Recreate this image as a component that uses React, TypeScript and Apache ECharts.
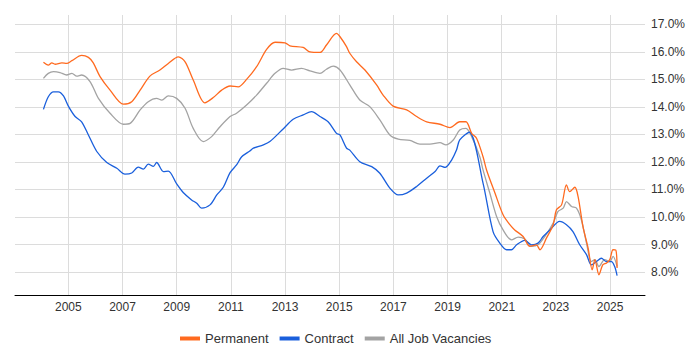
import React, { useEffect, useRef } from "react";
import * as echarts from "echarts";

const seriesNames = ["Permanent", "Contract", "All Job Vacancies"];
const seriesColors = ["#ff6a1f", "#1a5fdc", "#a3a3a3"];

const xTickYears = [2005, 2007, 2009, 2011, 2013, 2015, 2017, 2019, 2021, 2023, 2025];
const yTickValues = [8, 9, 10, 11, 12, 13, 14, 15, 16, 17];

const permanent: [number, number][] = [
  [2004.08, 15.62], [2004.26, 15.52], [2004.39, 15.6], [2004.51, 15.55], [2004.76, 15.6], [2004.94, 15.58],
  [2005.13, 15.68], [2005.49, 15.87], [2005.74, 15.8], [2005.92, 15.6], [2006.17, 15.1], [2006.54, 14.61],
  [2007.03, 14.1], [2007.34, 14.19], [2007.65, 14.61], [2008.01, 15.12], [2008.38, 15.34], [2008.69, 15.58],
  [2009.06, 15.82], [2009.31, 15.64], [2009.61, 14.98], [2010.04, 14.15], [2010.35, 14.34], [2010.66, 14.61],
  [2010.97, 14.76], [2011.27, 14.73], [2011.58, 15.0], [2011.95, 15.46], [2012.32, 16.09], [2012.63, 16.35],
  [2013.0, 16.33], [2013.18, 16.22], [2013.67, 16.16], [2013.92, 16.0], [2014.29, 15.98], [2014.53, 16.25],
  [2014.9, 16.67], [2015.03, 16.55], [2015.27, 16.19], [2015.39, 15.95], [2015.64, 15.64], [2015.95, 15.34],
  [2016.38, 14.8], [2016.62, 14.43], [2016.99, 14.03], [2017.49, 13.89], [2017.86, 13.65], [2018.23, 13.46],
  [2018.72, 13.37], [2019.09, 13.25], [2019.45, 13.46], [2019.68, 13.46], [2019.89, 13.04], [2020.07, 12.86],
  [2020.31, 12.19], [2020.44, 11.71], [2020.75, 10.87], [2021.05, 10.08], [2021.3, 9.72], [2021.48, 9.53],
  [2021.79, 9.29], [2022.04, 8.93], [2022.28, 8.99], [2022.41, 8.81], [2022.65, 9.23], [2022.9, 9.72],
  [2023.02, 10.26], [2023.21, 10.44], [2023.39, 11.17], [2023.51, 10.92], [2023.7, 11.08], [2023.82, 10.74],
  [2024.0, 9.65], [2024.19, 8.87], [2024.34, 8.08], [2024.44, 8.45], [2024.59, 7.9], [2024.73, 8.26],
  [2024.87, 8.33], [2024.99, 8.45], [2025.11, 8.81], [2025.21, 8.8], [2025.26, 8.15],
];

const contract: [number, number][] = [
  [2004.08, 13.91], [2004.26, 14.37], [2004.45, 14.55], [2004.63, 14.55], [2004.82, 14.4], [2005.0, 14.03],
  [2005.25, 13.65], [2005.49, 13.46], [2005.74, 12.98], [2006.05, 12.38], [2006.42, 11.98], [2006.79, 11.77],
  [2007.09, 11.56], [2007.34, 11.6], [2007.58, 11.81], [2007.77, 11.74], [2007.95, 11.92], [2008.14, 11.84],
  [2008.26, 11.98], [2008.51, 11.65], [2008.69, 11.67], [2009.0, 11.2], [2009.24, 10.89], [2009.55, 10.62],
  [2009.74, 10.5], [2009.92, 10.32], [2010.23, 10.44], [2010.48, 10.8], [2010.72, 11.08], [2010.97, 11.61],
  [2011.21, 11.89], [2011.4, 12.19], [2011.7, 12.4], [2011.83, 12.5], [2012.2, 12.62], [2012.44, 12.74],
  [2012.93, 13.2], [2013.3, 13.55], [2013.67, 13.71], [2013.98, 13.83], [2014.29, 13.65], [2014.59, 13.46],
  [2014.9, 13.04], [2015.03, 12.98], [2015.27, 12.5], [2015.39, 12.43], [2015.76, 12.01], [2016.2, 11.83],
  [2016.5, 11.59], [2016.87, 11.05], [2017.18, 10.8], [2017.49, 10.87], [2017.86, 11.11], [2018.23, 11.41],
  [2018.54, 11.65], [2018.72, 11.86], [2018.91, 11.8], [2019.15, 12.07], [2019.33, 12.43], [2019.45, 12.8],
  [2019.8, 13.08], [2020.31, 11.23], [2020.68, 9.47], [2020.93, 9.05], [2021.18, 8.81], [2021.36, 8.81],
  [2021.55, 8.99], [2021.85, 9.15], [2022.1, 8.99], [2022.34, 9.05], [2022.53, 9.29], [2022.78, 9.53],
  [2023.14, 9.84], [2023.39, 9.72], [2023.63, 9.47], [2023.88, 8.99], [2024.13, 8.63], [2024.31, 8.26],
  [2024.5, 8.38], [2024.68, 8.5], [2024.87, 8.38], [2025.05, 8.38], [2025.17, 8.2], [2025.26, 7.87],
];

const allJobs: [number, number][] = [
  [2004.08, 15.04], [2004.26, 15.22], [2004.45, 15.28], [2004.69, 15.25], [2004.94, 15.16], [2005.13, 15.22],
  [2005.31, 15.12], [2005.49, 15.16], [2005.8, 14.92], [2006.11, 14.31], [2006.54, 13.77], [2007.03, 13.37],
  [2007.28, 13.4], [2007.65, 13.89], [2007.95, 14.19], [2008.26, 14.31], [2008.45, 14.25], [2008.69, 14.4],
  [2009.0, 14.31], [2009.31, 13.95], [2009.61, 13.22], [2009.98, 12.74], [2010.29, 12.92], [2010.6, 13.28],
  [2010.97, 13.65], [2011.21, 13.77], [2011.58, 14.07], [2011.95, 14.43], [2012.32, 14.86], [2012.63, 15.22],
  [2012.93, 15.4], [2013.24, 15.34], [2013.61, 15.4], [2013.92, 15.31], [2014.29, 15.22], [2014.53, 15.37],
  [2014.78, 15.48], [2015.03, 15.34], [2015.39, 14.8], [2015.76, 14.25], [2016.13, 14.01], [2016.5, 13.53],
  [2016.87, 12.98], [2017.18, 12.83], [2017.61, 12.78], [2017.98, 12.65], [2018.35, 12.65], [2018.72, 12.7],
  [2018.94, 12.62], [2019.21, 12.8], [2019.45, 13.16], [2019.68, 13.22], [2019.89, 12.92], [2020.19, 12.19],
  [2020.31, 11.71], [2020.56, 10.87], [2020.81, 10.02], [2021.05, 9.53], [2021.36, 9.17], [2021.61, 9.27],
  [2021.85, 9.2], [2022.1, 8.93], [2022.34, 8.99], [2022.59, 9.29], [2022.9, 9.78], [2023.08, 10.2],
  [2023.27, 10.32], [2023.39, 10.56], [2023.58, 10.38], [2023.76, 10.32], [2023.94, 9.9], [2024.13, 9.05],
  [2024.31, 8.38], [2024.44, 8.45], [2024.59, 8.2], [2024.8, 8.45], [2024.99, 8.38], [2025.11, 8.57],
  [2025.26, 8.2],
];

const seriesData = [permanent, contract, allJobs];
const seriesZ = [4, 3, 2];

export default function App() {
  const ref = useRef<HTMLDivElement>(null);
  useEffect(() => {
    if (!ref.current) return;
    const chart = echarts.init(ref.current, null, { renderer: "svg" });
    const font = "Arial, 'Liberation Sans', sans-serif";
    chart.setOption({
      animation: false,
      grid: { left: 15, right: 55, top: 15, bottom: 55, containLabel: false },
      legend: {
        top: 327,
        left: 175,
        icon: "rect",
        itemWidth: 20,
        itemHeight: 4,
        itemGap: 11,
        textStyle: { fontSize: 13, color: "#333", fontFamily: font },
        data: seriesNames,
      },
      xAxis: {
        type: "value",
        min: 2003.03,
        max: 2026.29,
        axisLine: { show: true, lineStyle: { color: "#000", width: 1 } },
        axisTick: { show: false, customValues: xTickYears },
        axisLabel: {
          customValues: xTickYears,
          color: "#333",
          fontSize: 12,
          fontFamily: font,
          margin: 6,
          formatter: (v: number) => String(Math.round(v)),
        },
        splitLine: { show: true, lineStyle: { color: "#dcdcdc", width: 1 } },
      },
      yAxis: {
        type: "value",
        position: "right",
        min: 7.165,
        max: 17.34,
        axisLine: { show: false },
        axisTick: { show: false, customValues: yTickValues },
        axisLabel: {
          customValues: yTickValues,
          color: "#333",
          fontSize: 12,
          fontFamily: font,
          margin: 6,
          formatter: (v: number) => v.toFixed(1) + "%",
        },
        splitLine: { show: true, lineStyle: { color: "#dcdcdc", width: 1 } },
      },
      series: seriesNames.map((name, i) => ({
        name,
        type: "line",
        data: seriesData[i],
        showSymbol: false,
        symbol: "none",
        smooth: 0.3,
        z: seriesZ[i],
        color: seriesColors[i],
        lineStyle: { color: seriesColors[i], width: 1.3 },
      })),
    });
    return () => chart.dispose();
  }, []);
  return <div ref={ref} style={{ width: 700, height: 350, position: "absolute", left: 0, top: 0 }} />;
}
